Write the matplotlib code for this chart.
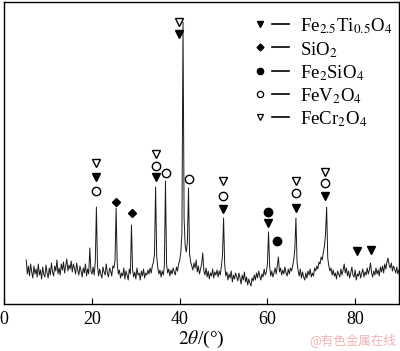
import numpy as np
import matplotlib
matplotlib.use('Agg')
import matplotlib.pyplot as plt

plt.rcParams['font.family'] = ['Liberation Serif', 'DejaVu Serif']
plt.rcParams['mathtext.fontset'] = 'stix'

# XRD intensity (arbitrary units), sampled every 0.25 deg from 5 to 90 deg
intensity = [
    44, 30, 38, 28, 40, 32, 26, 38, 30, 35, 27, 40, 29, 34, 25, 37,   # 5
    30, 27, 39, 31, 26, 36, 29, 41, 32, 28, 38, 33, 44, 30, 36, 29,   # 9
    40, 34, 42, 31, 38, 45, 33, 39, 35, 43, 32, 40, 36, 30, 41, 34,   # 13
    29, 38, 33, 27, 36, 31, 40, 28, 35, 30, 56, 33, 30, 37, 29, 42,   # 17
    97, 38, 28, 35, 30, 26, 37, 32, 29, 40, 31, 27, 36, 33, 28, 38,   # 21
    36, 44, 96, 40, 30, 34, 26, 31, 28, 36, 25, 33, 29, 24, 35, 30,   # 25
    79, 34, 27, 32, 25, 36, 29, 31, 24, 33, 28, 35, 26, 31, 29, 34,   # 29
    30, 36, 31, 38, 42, 50, 117, 48, 36, 30, 34, 27, 33, 29, 38, 123,  # 33
    40, 31, 35, 28, 34, 30, 36, 32, 29, 37, 33, 40, 44, 52, 70, 282,  # 37
    85, 58, 52, 62, 116, 50, 42, 38, 34, 41, 36, 44, 32, 38, 30, 35,  # 41
    40, 51, 33, 29, 36, 27, 33, 25, 31, 28, 35, 26, 32, 29, 34, 27,   # 45
    33, 29, 38, 48, 86, 40, 28, 32, 24, 30, 26, 33, 22, 29, 25, 31,   # 49
    27, 23, 31, 26, 20, 29, 24, 32, 22, 27, 19, 25, 21, 18, 26, 23,   # 53
    29, 24, 31, 26, 33, 28, 24, 30, 27, 35, 29, 32, 40, 72, 38, 28,   # 57
    33, 27, 31, 36, 30, 38, 47, 32, 36, 29, 34, 30, 37, 31, 28, 35,   # 61
    30, 36, 33, 38, 44, 55, 86, 42, 33, 28, 35, 26, 32, 27, 24, 31,   # 65
    26, 33, 29, 35, 27, 31, 28, 36, 33, 38, 35, 42, 40, 47, 44, 52,   # 69
    58, 70, 97, 46, 38, 33, 36, 29, 34, 28, 31, 25, 33, 30, 27, 35,   # 73
    29, 34, 40, 31, 36, 28, 33, 26, 31, 37, 29, 27, 34, 24, 30, 28,   # 77
    33, 26, 31, 35, 27, 32, 29, 36, 30, 34, 41, 31, 27, 33, 29, 36,   # 81
    30, 34, 28, 37, 32, 38, 31, 40, 35, 42, 46, 39, 36, 41, 33, 38,   # 85
    35, 31, 37, 30, 34,                                               # 89
]
two_theta = 5 + 0.25 * np.arange(len(intensity))

# phase markers (2theta, height)
ti_x = [21.0, 34.6, 39.8, 49.9, 60.2, 66.6, 73.2, 80.4, 83.6]
ti_y = [127, 127, 270, 95, 81, 96, 108, 53, 54]
si_x = [25.5, 29.1]
si_y = [102, 91]
fs_x = [60.2, 62.2]
fs_y = [92, 63]
fv_x = [21.0, 34.7, 36.9, 42.1, 49.9, 66.6, 73.2]
fv_y = [113, 138, 131, 125, 108, 111, 121]
fc_x = [21.0, 34.7, 39.8, 49.9, 66.6, 73.2]
fc_y = [141, 150, 282, 123, 123, 132]

labels = [r'Fe$_{2.5}$Ti$_{0.5}$O$_4$', r'SiO$_2$', r'Fe$_2$SiO$_4$',
          r'FeV$_2$O$_4$', r'FeCr$_2$O$_4$']

fig = plt.figure(figsize=(4.0, 3.51), dpi=100)
ax = fig.add_axes([4.3 / 400, 47 / 351, 394.7 / 400, 302 / 351])

ax.plot(two_theta, intensity, color='#1a1a1a', lw=0.7)

ms = 6
ax.plot(ti_x, ti_y, 'v', color='black', ms=ms, ls='none')
ax.plot(si_x, si_y, 'D', color='black', ms=4.5, ls='none')
ax.plot(fs_x, fs_y, 'o', color='black', ms=ms, ls='none')
ax.plot(fv_x, fv_y, 'o', mfc='white', mec='black', mew=1.0, ms=ms, ls='none')
ax.plot(fc_x, fc_y, 'v', mfc='white', mec='black', mew=1.0, ms=ms, ls='none')

# manual legend
styles = [dict(marker='v', color='black', ms=4.5),
          dict(marker='D', color='black', ms=3.5),
          dict(marker='o', color='black', ms=4.5),
          dict(marker='o', mfc='white', mec='black', mew=0.9, ms=4.5),
          dict(marker='v', mfc='white', mec='black', mew=0.9, ms=4.5)]
for i, (lab, st) in enumerate(zip(labels, styles)):
    yr = (304 - (24 + 23.3 * i)) / 302
    ax.plot([0.648], [yr], transform=ax.transAxes, ls='none', **st)
    ax.plot([0.679, 0.721], [yr, yr], transform=ax.transAxes, color='black', lw=1.2)
    ax.text(0.749, yr - 0.025, lab, transform=ax.transAxes, fontsize=13.5,
            va='baseline', ha='left')

ax.set_xlim(0, 90)
ax.set_ylim(0, 302)
ax.set_xticks([0, 20, 40, 60, 80])
ax.set_yticks([])
ax.tick_params(axis='x', direction='in', length=4, labelsize=13, pad=5)
ax.set_xlabel(r'$2\theta$/(°)', fontsize=14, labelpad=1)
for s in ax.spines.values():
    s.set_linewidth(1.0)

fig.text(0.99, 0.02, '@有色金属在线', color='#f2b3b3', fontsize=9, ha='right',
         family=['Noto Sans CJK SC', 'DejaVu Sans'])

fig.savefig('out.png', dpi=100)
